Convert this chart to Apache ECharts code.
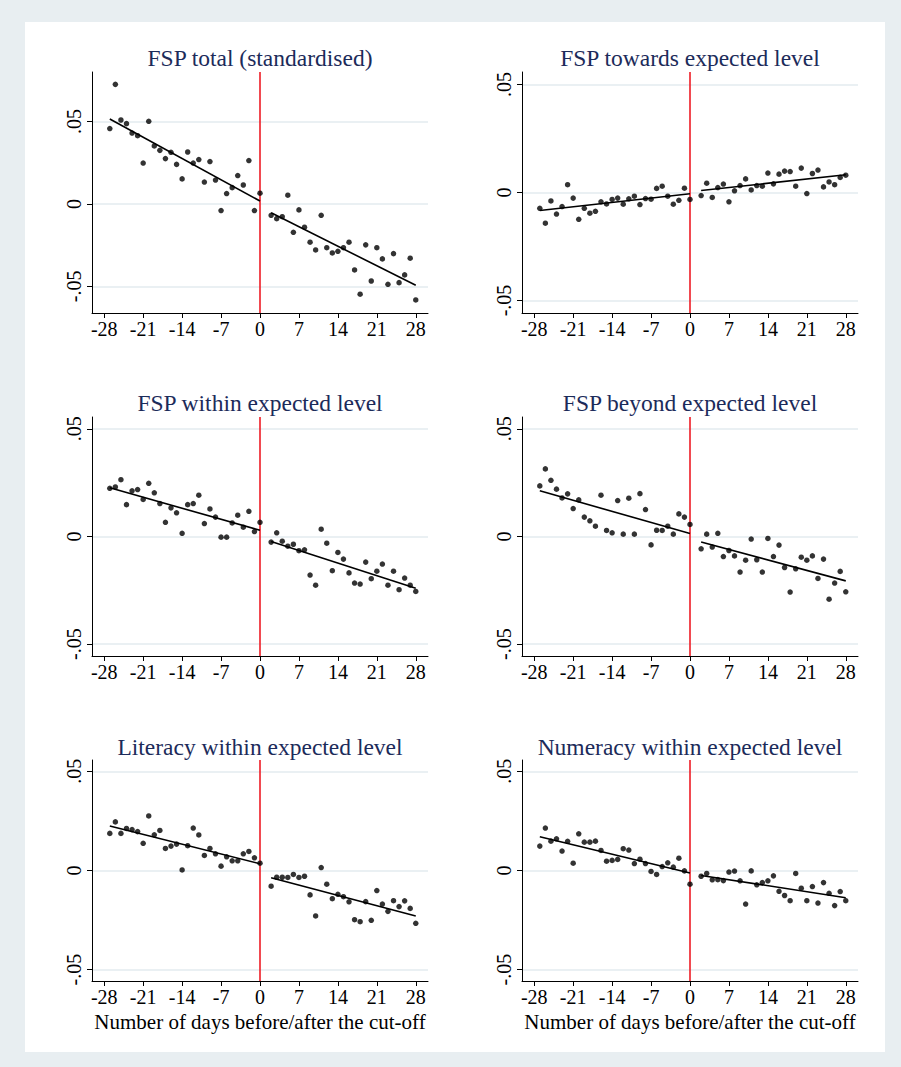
<!DOCTYPE html>
<html><head><meta charset="utf-8">
<script src="https://cdn.jsdelivr.net/npm/echarts@6/dist/echarts.min.js"></script>
<style>html,body{margin:0;padding:0;background:#e8eef1;} #c{width:901px;height:1067px;}</style>
</head><body><div id="c"></div>
<script>
const daysLeft = [-27,-26,-25,-24,-23,-22,-21,-20,-19,-18,-17,-16,-15,-14,-13,-12,-11,-10,-9,-8,-7,-6,-5,-4,-3,-2,-1,0];
const daysRight = [2,3,4,5,6,7,8,9,10,11,12,13,14,15,16,17,18,19,20,21,22,23,24,25,26,27,28];
const xTicks = [-28,-21,-14,-7,0,7,14,21,28];
const yTicks = [-0.05,0,0.05];
const titles = ['FSP total (standardised)','FSP towards expected level','FSP within expected level','FSP beyond expected level','Literacy within expected level','Numeracy within expected level'];
const xAxisTitle = 'Number of days before/after the cut-off';

const p1Left = [0.0457,0.0725,0.0509,0.0487,0.0430,0.0414,0.0248,0.0501,0.0352,0.0325,0.0275,0.0313,0.0240,0.0152,0.0315,0.0248,0.0269,0.0133,0.0257,0.0145,-0.0040,0.0063,0.0099,0.0172,0.0115,0.0263,-0.0040,0.0065];
const p1Right = [-0.0069,-0.0089,-0.0077,0.0053,-0.0172,-0.0036,-0.0141,-0.0232,-0.0279,-0.0069,-0.0265,-0.0297,-0.0287,-0.0265,-0.0232,-0.0400,-0.0547,-0.0248,-0.0467,-0.0265,-0.0333,-0.0487,-0.0301,-0.0477,-0.0430,-0.0329,-0.0582];
const p2Left = [-0.0073,-0.0142,-0.0039,-0.0100,-0.0065,0.0036,-0.0026,-0.0124,-0.0073,-0.0096,-0.0087,-0.0043,-0.0053,-0.0032,-0.0026,-0.0054,-0.0029,-0.0017,-0.0056,-0.0028,-0.0031,0.0019,0.0029,-0.0017,-0.0054,-0.0036,0.0020,-0.0032];
const p2Right = [-0.0014,0.0043,-0.0023,0.0023,0.0039,-0.0043,0.0008,0.0032,0.0063,0.0012,0.0032,0.0029,0.0090,0.0040,0.0085,0.0099,0.0097,0.0029,0.0113,-0.0005,0.0088,0.0104,0.0026,0.0049,0.0036,0.0070,0.0080];
const p3Left = [0.0224,0.0230,0.0264,0.0148,0.0212,0.0218,0.0172,0.0247,0.0203,0.0153,0.0066,0.0133,0.0110,0.0015,0.0148,0.0153,0.0192,0.0060,0.0128,0.0090,-0.0003,-0.0003,0.0063,0.0099,0.0043,0.0117,0.0023,0.0066];
const p3Right = [-0.0026,0.0017,-0.0022,-0.0045,-0.0036,-0.0066,-0.0062,-0.0179,-0.0226,0.0034,-0.0031,-0.0159,-0.0074,-0.0105,-0.0169,-0.0216,-0.0221,-0.0119,-0.0196,-0.0161,-0.0128,-0.0226,-0.0161,-0.0247,-0.0193,-0.0226,-0.0255];
const p4Left = [0.0235,0.0314,0.0261,0.0220,0.0179,0.0198,0.0130,0.0170,0.0090,0.0073,0.0048,0.0192,0.0028,0.0017,0.0167,0.0011,0.0178,0.0011,0.0199,0.0125,-0.0039,0.0029,0.0028,0.0048,0.0011,0.0105,0.0090,0.0056];
const p4Right = [-0.0057,0.0011,-0.0049,0.0015,-0.0093,-0.0065,-0.0090,-0.0165,-0.0110,-0.0012,-0.0108,-0.0165,-0.0009,-0.0093,-0.0040,-0.0144,-0.0258,-0.0150,-0.0096,-0.0110,-0.0090,-0.0195,-0.0105,-0.0291,-0.0216,-0.0162,-0.0257];
const p5Left = [0.0187,0.0245,0.0187,0.0212,0.0206,0.0196,0.0137,0.0275,0.0180,0.0202,0.0111,0.0123,0.0133,0.0003,0.0125,0.0214,0.0179,0.0076,0.0111,0.0084,0.0022,0.0069,0.0049,0.0049,0.0084,0.0096,0.0064,0.0037];
const p5Right = [-0.0079,-0.0034,-0.0034,-0.0035,-0.0020,-0.0035,-0.0029,-0.0123,-0.0229,0.0015,-0.0069,-0.0142,-0.0120,-0.0132,-0.0158,-0.0248,-0.0258,-0.0157,-0.0251,-0.0101,-0.0169,-0.0206,-0.0152,-0.0182,-0.0153,-0.0191,-0.0266];
const p6Left = [0.0123,0.0214,0.0148,0.0160,0.0098,0.0147,0.0037,0.0185,0.0143,0.0143,0.0148,0.0101,0.0047,0.0051,0.0056,0.0110,0.0103,0.0035,0.0057,0.0035,-0.0005,-0.0020,0.0020,0.0039,0.0017,0.0062,-0.0002,-0.0069];
const p6Right = [-0.0029,-0.0015,-0.0047,-0.0046,-0.0051,-0.0008,-0.0003,-0.0052,-0.0169,-0.0002,-0.0072,-0.0061,-0.0052,-0.0027,-0.0105,-0.0126,-0.0152,-0.0015,-0.0089,-0.0152,-0.0081,-0.0164,-0.0061,-0.0115,-0.0177,-0.0106,-0.0152];

const p1FitLeft = [0.0515,0.0018], p1FitRight = [-0.0053,-0.0493];
const p2FitLeft = [-0.0083,-0.0006], p2FitRight = [0.0009,0.0082];
const p3FitLeft = [0.0226,0.0029], p3FitRight = [-0.0023,-0.0240];
const p4FitLeft = [0.0212,0.0014], p4FitRight = [-0.0026,-0.0206];
const p5FitLeft = [0.0224,0.0034], p5FitRight = [-0.0037,-0.0229];
const p6FitLeft = [0.0170,-0.0013], p6FitRight = [-0.0025,-0.0137];

const panelData = [
  [p1Left,p1Right,p1FitLeft,p1FitRight],
  [p2Left,p2Right,p2FitLeft,p2FitRight],
  [p3Left,p3Right,p3FitLeft,p3FitRight],
  [p4Left,p4Right,p4FitLeft,p4FitRight],
  [p5Left,p5Right,p5FitLeft,p5FitRight],
  [p6Left,p6Right,p6FitLeft,p6FitRight]
];

// layout (pixels) and y ranges
const layout = [
  {left:92, top:72, width:336, height:241, ymin:-0.0661, ymax:0.0800, ty:58},
  {left:522, top:72, width:336, height:241, ymin:-0.0558, ymax:0.0558, ty:58},
  {left:92, top:417, width:336, height:239, ymin:-0.0555, ymax:0.0555, ty:403},
  {left:522, top:417, width:336, height:239, ymin:-0.0555, ymax:0.0555, ty:403},
  {left:92, top:760, width:336, height:221, ymin:-0.0557, ymax:0.0557, ty:747},
  {left:522, top:760, width:336, height:221, ymin:-0.0557, ymax:0.0557, ty:747}
];

const FONT = '"Liberation Serif","DejaVu Serif",serif';
const fmtY = v => v === 0 ? '0' : (v < 0 ? '-' : '') + String(Math.abs(v)).replace(/^0/, '');

const grids = [], xAxes = [], yAxes = [], series = [], graphics = [];
graphics.push({type:'rect', shape:{x:25, y:22, width:860, height:1030}, style:{fill:'#ffffff'}, z:-10, silent:true});

layout.forEach((L, i) => {
  grids.push({left:L.left, top:L.top, width:L.width, height:L.height, containLabel:false});
  xAxes.push({
    type:'value', gridIndex:i, min:-30.2, max:30.2,
    axisLine:{show:true, onZero:false, lineStyle:{color:'#000', width:1}},
    axisTick:{show:true, inside:false, length:5, customValues:xTicks, lineStyle:{color:'#000', width:1}},
    axisLabel:{show:true, customValues:xTicks, margin:6, color:'#000', fontFamily:FONT, fontSize:20, formatter: v => String(v)},
    splitLine:{show:false}
  });
  yAxes.push({
    type:'value', gridIndex:i, min:L.ymin, max:L.ymax,
    axisLine:{show:true, onZero:false, lineStyle:{color:'#000', width:1}},
    axisTick:{show:true, inside:false, length:5, customValues:yTicks, lineStyle:{color:'#000', width:1}},
    axisLabel:{show:true, customValues:yTicks, rotate:90, margin:8, color:'#000', fontFamily:FONT, fontSize:20, formatter: fmtY},
    splitLine:{show:false}
  });
  const [vl, vr, fl, fr] = panelData[i];
  // grid lines
  series.push({
    type:'line', xAxisIndex:i, yAxisIndex:i, data:[], z:0, silent:true,
    markLine:{silent:true, z:0, symbol:'none', label:{show:false}, animation:false,
      lineStyle:{color:'#e3ebef', width:1.6, type:'solid'},
      data: yTicks.map(t => ({yAxis:t}))}
  });
  // cut-off line
  series.push({
    type:'line', xAxisIndex:i, yAxisIndex:i, data:[], z:1, silent:true,
    markLine:{silent:true, z:1, symbol:'none', label:{show:false}, animation:false,
      lineStyle:{color:'#ee1c25', width:1.6, type:'solid'},
      data:[{xAxis:0}]}
  });
  series.push({type:'scatter', xAxisIndex:i, yAxisIndex:i, symbolSize:5.5, z:3,
    itemStyle:{color:'#000'}, data: daysLeft.map((d,k)=>[d, vl[k]])});
  series.push({type:'scatter', xAxisIndex:i, yAxisIndex:i, symbolSize:5.5, z:3,
    itemStyle:{color:'#000'}, data: daysRight.map((d,k)=>[d, vr[k]])});
  series.push({type:'line', xAxisIndex:i, yAxisIndex:i, symbol:'none', z:4,
    lineStyle:{color:'#000', width:1.6},
    data:[[daysLeft[0], fl[0]],[daysLeft[daysLeft.length-1], fl[1]]]});
  series.push({type:'line', xAxisIndex:i, yAxisIndex:i, symbol:'none', z:4,
    lineStyle:{color:'#000', width:1.6},
    data:[[daysRight[0], fr[0]],[daysRight[daysRight.length-1], fr[1]]]});
  graphics.push({type:'text', x:L.left + L.width*0.5, y:L.ty, z:10,
    style:{text:titles[i], fill:'#1c2b5a', font:'23.5px ' + FONT, align:'center', verticalAlign:'middle'}});
});
graphics.push({type:'text', x:260, y:1022, z:10, style:{text:xAxisTitle, fill:'#000', font:'21px ' + FONT, align:'center', verticalAlign:'middle'}});
graphics.push({type:'text', x:690, y:1022, z:10, style:{text:xAxisTitle, fill:'#000', font:'21px ' + FONT, align:'center', verticalAlign:'middle'}});

const chart = echarts.init(document.getElementById('c'), null, {renderer:'svg', width:901, height:1067});
chart.setOption({
  animation:false,
  backgroundColor:'#e8eef1',
  grid: grids, xAxis: xAxes, yAxis: yAxes, series: series, graphic: graphics
});
</script>
</body></html>
